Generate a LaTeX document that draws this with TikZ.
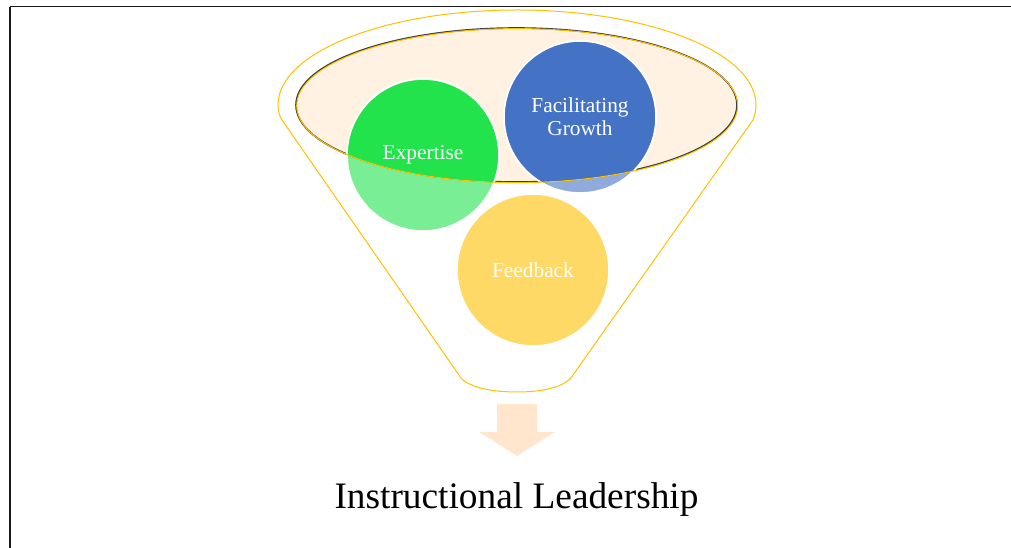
\documentclass[tikz,border=0pt]{standalone}
\usepackage{fontspec}
\setmainfont{Liberation Serif}

\definecolor{funnelgold}{RGB}{255,192,0}
\definecolor{rimfill}{RGB}{255,242,226}
\definecolor{rimdark}{RGB}{60,60,60}
\definecolor{expgreen}{RGB}{34,227,76}
\definecolor{growblue}{RGB}{68,114,196}
\definecolor{arrowpeach}{RGB}{255,230,204}

\tikzset{every picture/.style={line width=0.75pt}}
\tikzset{
  bubble/.style={circle, minimum size=114pt, inner sep=0pt, draw=white, line width=1.2pt, fill opacity=0.6},
  bubbletext/.style={text=white, align=center, font=\fontsize{16}{17}\selectfont},
}

\begin{document}
\begin{tikzpicture}[x=0.75pt,y=0.75pt,yscale=-1,xscale=1]
        \useasboundingbox (0,0) rectangle (1011,548);
        \draw [line width=1.5pt, black!90] (10,7) -- (10,548) ;
        \draw [black!90] (10,7) -- (1011,7) ;
        % funnel
        \draw [funnelgold] (461,378) -- (282,120) .. controls (279,115) and (278,110) .. (278,105) arc [start angle=180, end angle=360, x radius=239, y radius=95] .. controls (756,110) and (755,115) .. (753,120) -- (573,375) .. controls (565,388) and (540,392) .. (517,392) .. controls (494,392) and (470,388) .. (461,378) -- cycle ;
        \fill [rimfill] (516.5,105) ellipse [x radius=220.5, y radius=77] ;
        \draw [rimdark, line width=1.2pt] (516.5,105) ellipse [x radius=220.5, y radius=77] ;
        \node [bubble, fill=expgreen] (expertise) at (423,155) {};
        \node [bubble, fill=growblue] (growth) at (580,117) {};
        \node [bubble, fill=funnelgold] (feedback) at (533,270) {};
        \begin{scope}
          \clip (516.5,105) ellipse [x radius=220.5, y radius=77] ;
          \filldraw [fill=expgreen, draw=white, line width=1.2pt] (expertise.center) circle [radius=76] ;
          \filldraw [fill=growblue, draw=white, line width=1.2pt] (growth.center) circle [radius=76] ;
        \end{scope}
        \draw [funnelgold] (517.2,105.6) ellipse [x radius=220.5, y radius=77] ;
        \node [bubbletext] (explabel) at (expertise) {Expertise};
        \node [bubbletext] (growlabel) at (growth) {Facilitating\\Growth};
        \node [bubbletext] (feedlabel) at (feedback) {Feedback};
        % result
        \fill [arrowpeach] (497,404) -- (537,404) -- (537,432) -- (555,432) -- (517,456) -- (479,432) -- (497,432) -- cycle ;
        \node [anchor=base, font=\fontsize{28}{34}\selectfont] (result) at (516.5,509) {Instructional Leadership};
\end{tikzpicture}
\end{document}
